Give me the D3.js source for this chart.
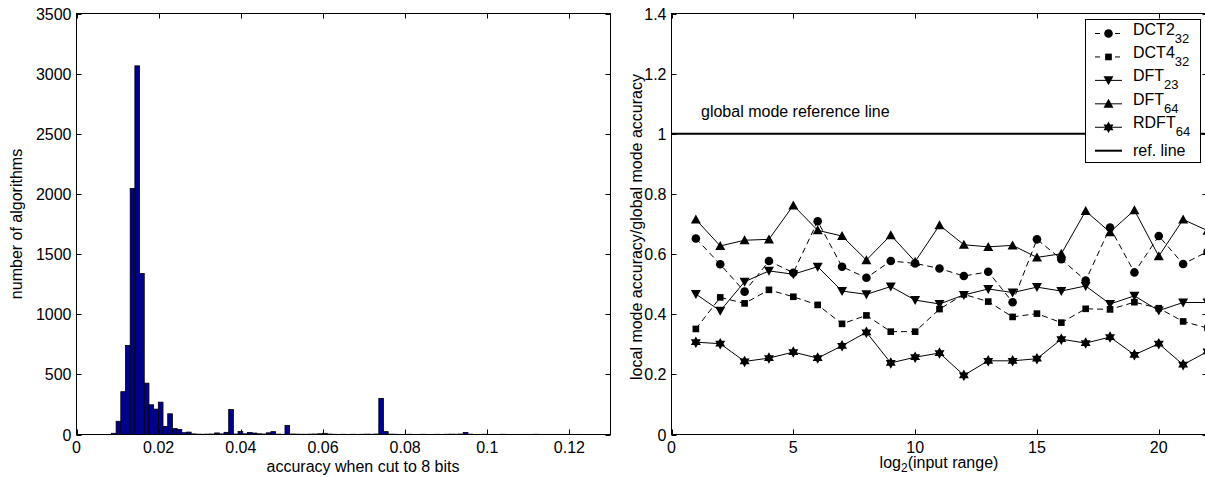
<!DOCTYPE html>
<html>
<head>
<meta charset="utf-8">
<script src="https://cdn.jsdelivr.net/npm/d3@7"></script>
<style>
  body { margin: 0; background: #fff; }
  svg { display: block; font-family: "Liberation Sans", Arial, Helvetica, sans-serif; }
</style>
</head>
<body>
<script>
(function() {

// ---- left panel: histogram of accuracies ----
var histStart = 0.0085,
    histBinWidth = 0.001142,
    histCounts = [
      10, 110, 356, 740, 2045, 3065, 1338, 427, 247, 211,
      269, 67, 172, 50, 42, 15, 20, 5, 3, 2,
      3, 4, 13, 5, 18, 208, 4, 25, 6, 17,
      12, 6, 4, 14, 24, 3, 2, 75, 4, 3,
      2, 2, 3, 4, 6, 10, 4, 2, 1, 2,
      1, 2, 1, 2, 3, 2, 4, 300, 24, 3,
      2, 1, 1, 2, 1, 1, 2, 1, 1, 2,
      1, 2, 3, 2, 4, 17, 3, 1, 1, 2,
      1, 1, 1, 2, 1, 1, 1, 1, 1, 1,
      2, 1, 1, 1, 1, 1, 1, 1, 1, 1
    ],
    histXTicks = [0, 0.02, 0.04, 0.06, 0.08, 0.1, 0.12],
    histYTicks = [0, 500, 1000, 1500, 2000, 2500, 3000, 3500];

// ---- right panel: local / global accuracy ----
var inputRange = [1, 2, 3, 4, 5, 6, 7, 8, 9, 10, 11, 12, 13, 14, 15, 16, 17, 18, 19, 20, 21, 22],
    dct2_32 = [0.652, 0.566, 0.475, 0.577, 0.538, 0.709, 0.558, 0.521, 0.577, 0.569, 0.552,
               0.527, 0.541, 0.440, 0.649, 0.583, 0.512, 0.688, 0.539, 0.660, 0.567, 0.608],
    dct4_32 = [0.351, 0.456, 0.436, 0.481, 0.458, 0.431, 0.368, 0.396, 0.342, 0.342, 0.417,
               0.466, 0.442, 0.391, 0.402, 0.372, 0.418, 0.416, 0.440, 0.420, 0.376, 0.354],
    dft_23  = [0.467, 0.411, 0.508, 0.544, 0.533, 0.558, 0.477, 0.466, 0.492, 0.447, 0.434,
               0.464, 0.484, 0.472, 0.490, 0.477, 0.494, 0.434, 0.461, 0.412, 0.439, 0.439],
    dft_64  = [0.715, 0.627, 0.646, 0.649, 0.762, 0.679, 0.660, 0.580, 0.663, 0.575, 0.696,
               0.631, 0.624, 0.629, 0.589, 0.601, 0.743, 0.673, 0.746, 0.593, 0.715, 0.678],
    rdft_64 = [0.307, 0.302, 0.243, 0.254, 0.274, 0.254, 0.295, 0.340, 0.238, 0.257, 0.271,
               0.197, 0.245, 0.245, 0.252, 0.317, 0.304, 0.324, 0.265, 0.302, 0.232, 0.276],
    refValue = 1,
    seriesNames = ["DCT2", "DCT4", "DFT", "DFT", "RDFT"],
    seriesSubs  = ["32", "32", "23", "64", "64"],
    lineXTicks = [0, 5, 10, 15, 20],
    lineYTicks = [0, 0.2, 0.4, 0.6, 0.8, 1, 1.2, 1.4];

var W = 1205, H = 477, fs = 16, tick = 5,
    top = 13.5, bottom = 434.5;

var svg = d3.select("body").append("svg")
    .attr("width", W).attr("height", H);

svg.append("rect").attr("width", W).attr("height", H).attr("fill", "#fff");

function fmt(v) { return d3.format("~g")(v); }

// box with inward ticks on all four sides, labels left and bottom
function frame(x, y, xt, yt) {
  var g = svg.append("g"),
      x0 = x.range()[0], x1 = x.range()[1],
      y0 = y.range()[0], y1 = y.range()[1];

  g.append("rect")
    .attr("x", x0).attr("y", y1)
    .attr("width", x1 - x0).attr("height", y0 - y1)
    .attr("fill", "none").attr("stroke", "#000").attr("stroke-width", 1);

  xt.forEach(function(v) {
    var px = Math.round(x(v)) + 0.5;
    g.append("line").attr("x1", px).attr("x2", px).attr("y1", y0).attr("y2", y0 - tick).attr("stroke", "#000");
    g.append("line").attr("x1", px).attr("x2", px).attr("y1", y1).attr("y2", y1 + tick).attr("stroke", "#000");
    g.append("text").attr("x", x(v)).attr("y", y0 + 18).attr("text-anchor", "middle")
      .attr("font-size", fs).text(fmt(v));
  });
  yt.forEach(function(v) {
    var py = Math.round(y(v)) + 0.5;
    g.append("line").attr("x1", x0).attr("x2", x0 + tick).attr("y1", py).attr("y2", py).attr("stroke", "#000");
    g.append("line").attr("x1", x1).attr("x2", x1 - tick).attr("y1", py).attr("y2", py).attr("stroke", "#000");
    g.append("text").attr("x", x0 - 5).attr("y", y(v) + 6).attr("text-anchor", "end")
      .attr("font-size", fs).text(fmt(v));
  });
  return g;
}

// ---------- histogram ----------
var hx = d3.scaleLinear().domain([0, 0.13]).range([76.5, 610.5]),
    hy = d3.scaleLinear().domain([0, 3500]).range([bottom, top]);

var bins = histCounts.map(function(c, i) {
  return { x0: histStart + i * histBinWidth, x1: histStart + (i + 1) * histBinWidth, n: c };
});

svg.append("g").selectAll("rect")
  .data(bins)
  .enter()
  .append("rect")
    .attr("x", function(d) { return hx(d.x0); })
    .attr("width", function(d) { return hx(d.x1) - hx(d.x0); })
    .attr("y", function(d) { return hy(d.n); })
    .attr("height", function(d) { return hy(0) - hy(d.n); })
    .attr("fill", "#00008f")
    .attr("stroke", "#000")
    .attr("stroke-width", 0.8);

frame(hx, hy, histXTicks, histYTicks);

svg.append("text")
  .attr("x", 363).attr("y", 472)
  .attr("text-anchor", "middle").attr("font-size", fs)
  .text("accuracy when cut to 8 bits");

svg.append("text")
  .attr("transform", "translate(22,224) rotate(-90)")
  .attr("text-anchor", "middle").attr("font-size", fs)
  .text("number of algorithms");

// ---------- line chart ----------
var lx = d3.scaleLinear().domain([0, 22]).range([671.5, 1207.5]),
    ly = d3.scaleLinear().domain([0, 1.4]).range([bottom, top]);

svg.append("clipPath").attr("id", "plotclip")
  .append("rect").attr("x", 671).attr("y", 0).attr("width", W - 671).attr("height", H);

var plot = svg.append("g").attr("clip-path", "url(#plotclip)");

// reference line at 1
plot.append("line")
  .attr("x1", lx(0)).attr("x2", lx(22))
  .attr("y1", ly(refValue)).attr("y2", ly(refValue))
  .attr("stroke", "#000").attr("stroke-width", 2);

svg.append("text")
  .attr("x", 701).attr("y", 117).attr("font-size", fs)
  .text("global mode reference line");

// marker shapes
function triPath(dir) {
  return function(s) {
    var h = s * 0.9 * dir;
    return "M0," + (-h * 0.55) + "L" + (s / 2) + "," + (h * 0.45) + "L" + (-s / 2) + "," + (h * 0.45) + "Z";
  };
}
function hexagram(s) {
  var r = s / 2, p = "";
  [[-90, 30, 150], [90, 210, 330]].forEach(function(tri) {
    tri.forEach(function(a, i) {
      var t = a * Math.PI / 180;
      p += (i ? "L" : "M") + (r * Math.cos(t)).toFixed(2) + "," + (r * Math.sin(t)).toFixed(2);
    });
    p += "Z";
  });
  return p;
}
var markers = {
  circle: function() { return d3.symbol(d3.symbolCircle, 58)(); },
  square: function() { return d3.symbol(d3.symbolSquare, 44)(); },
  down:   function() { return triPath(-1)(10); },
  up:     function() { return triPath(1)(10); },
  star:   function() { return hexagram(11.5); }
};

var series = [
  { v: dct2_32, dash: "6,4", mk: "circle" },
  { v: dct4_32, dash: "6,4", mk: "square" },
  { v: dft_23,  dash: null,  mk: "down" },
  { v: dft_64,  dash: null,  mk: "up" },
  { v: rdft_64, dash: null,  mk: "star" }
];

var line = d3.line()
  .x(function(d) { return lx(d[0]); })
  .y(function(d) { return ly(d[1]); });

series.forEach(function(s) {
  var pts = inputRange.map(function(x, i) { return [x, s.v[i]]; });
  plot.append("path")
    .attr("d", line(pts))
    .attr("fill", "none").attr("stroke", "#000").attr("stroke-width", 1)
    .attr("stroke-dasharray", s.dash);
  plot.selectAll(null)
    .data(pts)
    .enter()
    .append("path")
      .attr("transform", function(d) { return "translate(" + lx(d[0]) + "," + ly(d[1]) + ")"; })
      .attr("d", markers[s.mk]())
      .attr("fill", "#000");
});

frame(lx, ly, lineXTicks, lineYTicks);

var xl = svg.append("text")
  .attr("x", 939).attr("y", 468)
  .attr("text-anchor", "middle").attr("font-size", fs);
xl.append("tspan").text("log");
xl.append("tspan").attr("font-size", 12).attr("dy", 4).text("2");
xl.append("tspan").attr("dy", -4).text("(input range)");

svg.append("text")
  .attr("transform", "translate(642,227) rotate(-90)")
  .attr("text-anchor", "middle").attr("font-size", fs)
  .text("local mode accuracy/global mode accuracy");

// ---------- legend ----------
var lg = svg.append("g");
lg.append("rect")
  .attr("x", 1085.5).attr("y", 19.5).attr("width", 115).attr("height", 143)
  .attr("fill", "#fff").attr("stroke", "#000");

var rowY = d3.scalePoint().domain(d3.range(6)).range([33.5, 150.7]);

series.forEach(function(s, i) {
  var y = rowY(i);
  lg.append("line")
    .attr("x1", 1095).attr("x2", 1122).attr("y1", y).attr("y2", y)
    .attr("stroke", "#000").attr("stroke-dasharray", s.dash ? "5,5" : null);
  lg.append("path")
    .attr("transform", "translate(1108.5," + y + ")")
    .attr("d", markers[s.mk]()).attr("fill", "#000");
  var t = lg.append("text").attr("x", 1133).attr("y", y + 1).attr("font-size", fs);
  t.append("tspan").text(seriesNames[i]);
  t.append("tspan").attr("font-size", 13).attr("dy", 8).text(seriesSubs[i]);
});

lg.append("line")
  .attr("x1", 1095).attr("x2", 1122).attr("y1", rowY(5)).attr("y2", rowY(5))
  .attr("stroke", "#000").attr("stroke-width", 2);
lg.append("text").attr("x", 1133).attr("y", rowY(5) + 5).attr("font-size", fs).text("ref. line");

}());
</script>
</body>
</html>
